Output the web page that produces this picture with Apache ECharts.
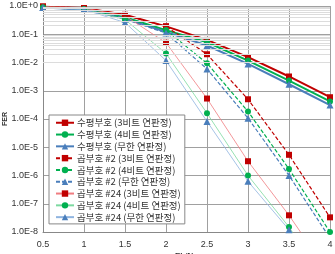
<!DOCTYPE html>
<html>
<head>
<meta charset="utf-8">
<script src="https://cdn.jsdelivr.net/npm/echarts@6/dist/echarts.min.js"></script>
<style>
  html, body { margin: 0; padding: 0; background: #fff; }
  #chart { width: 335px; height: 254px; }
</style>
</head>
<body>
<div id="chart"></div>
<script>
// Eb/No values (x axis)
const ebno = [0.5, 1, 1.5, 2, 2.5, 3, 3.5, 4];

// FER, horizontal code
const horiz3 = [0.95, 0.85, 0.49, 0.19, 0.063, 0.0154, 0.0032, 5.9e-4];
const horiz4 = [0.9, 0.78, 0.40, 0.14, 0.052, 0.0117, 0.0023, 4.2e-4];
const horizInf = [0.88, 0.75, 0.37, 0.12, 0.040, 0.0089, 0.0017, 3.1e-4];

// FER, product code #2
const prod2_3 = [0.95, 0.85, 0.47, 0.19, 0.0196, 5e-4, 5.4e-6, 3.3e-8];
const prod2_4 = [0.9, 0.78, 0.38, 0.14, 0.0094, 1.85e-4, 1.7e-6, 1e-8];
const prod2_inf = [0.88, 0.75, 0.34, 0.11, 0.0059, 1.07e-4, 1e-6, 6e-9];

// FER, product code #24
const prod24_3 = [0.95, 0.85, 0.45, 0.05, 5.3e-4, 3.2e-6, 3.9e-8, 3e-10];
const prod24_4 = [0.9, 0.78, 0.33, 0.021, 1.6e-4, 1e-6, 1.5e-8, 1e-10];
const prod24_inf = [0.88, 0.75, 0.26, 0.0117, 8.2e-5, 6.2e-7, 1.2e-8, 8e-11];

const names = [
  '수평부호 (3비트 연판정)', '수평부호 (4비트 연판정)', '수평부호 (무한 연판정)',
  '곱부호 #2 (3비트 연판정)', '곱부호 #2 (4비트 연판정)', '곱부호 #2 (무한 연판정)',
  '곱부호 #24 (3비트 연판정)', '곱부호 #24 (4비트 연판정)', '곱부호 #24 (무한 연판정)'
];

// minor gridlines at 2..9 x 10^e (Excel style)
const decades = [-8, -7, -6, -5, -4, -3, -2, -1];
const minorVals = [];
decades.forEach((e) => {
  for (let k = 2; k <= 9; k++) minorVals.push(k * Math.pow(10, e));
});

const RED = '#C00000', GREEN = '#00B050', BLUE = '#4A7EBB';

const pair = (ys) => ebno.map((x, i) => [x, ys[i]]);

const mk = (name, ys, color, symbol, lineColor, width, type) => ({
  name,
  type: 'line',
  data: pair(ys),
  symbol,
  symbolSize: symbol === 'triangle' ? 7 : 6,
  itemStyle: { color },
  lineStyle: { color: lineColor, width, type },
  z: 3
});

const chart = echarts.init(document.getElementById('chart'));

chart.setOption({
  animation: false,
  textStyle: { fontFamily: '"Noto Sans CJK KR", "Noto Sans", sans-serif' },
  grid: { left: 43, right: 5, top: 6, bottom: 22, outerBoundsMode: 'none' },
  xAxis: {
    type: 'value',
    min: 0.5,
    max: 4,
    interval: 0.5,
    name: 'Eb/No',
    nameLocation: 'middle',
    nameGap: 20,
    nameMoveOverlap: false,
    nameTextStyle: { fontSize: 8, fontWeight: 'bold', color: '#333', fontFamily: 'Liberation Sans' },
    axisLine: { lineStyle: { color: '#888' } },
    axisTick: { show: false },
    axisLabel: { fontSize: 9, color: '#333', margin: 8, fontFamily: 'Liberation Sans' },
    splitLine: { show: true, lineStyle: { color: '#a0a0a0', width: 1 } }
  },
  yAxis: {
    type: 'log',
    logBase: 10,
    min: 1e-8,
    max: 1,
    name: 'FER',
    nameLocation: 'middle',
    nameGap: 34,
    nameMoveOverlap: false,
    nameTextStyle: { fontSize: 7, fontWeight: 'bold', color: '#333', fontFamily: 'Liberation Sans' },
    axisLine: { show: true, lineStyle: { color: '#888' } },
    axisTick: { show: false },
    axisLabel: {
      fontSize: 9,
      color: '#333',
      margin: 5,
      fontFamily: 'Liberation Sans',
      formatter: (v) => {
        const e = Math.round(Math.log10(v));
        return '1.0E' + (e >= 0 ? '+' + e : e);
      }
    },
    splitLine: { show: true, lineStyle: { color: '#a0a0a0', width: 1 } }
  },
  legend: {
    data: names,
    orient: 'vertical',
    left: 49,
    top: 115,
    width: 133,
    padding: [3, 4, 2, 6],
    itemGap: 2.3,
    itemWidth: 18,
    itemHeight: 8,
    backgroundColor: '#fff',
    borderColor: '#888',
    borderWidth: 1,
    borderRadius: 0,
    textStyle: { fontSize: 9.5, color: '#333', padding: [0, 0, 0, -2] }
  },
  series: [
    {
      name: 'minor',
      type: 'line',
      data: [],
      silent: true,
      z: 1,
      markLine: {
        silent: true,
        symbol: 'none',
        label: { show: false },
        lineStyle: { color: '#dcdcdc', width: 1, type: 'solid' },
        data: minorVals.map((v) => ({ yAxis: v }))
      }
    },
    mk(names[0], horiz3, RED, 'rect', RED, 2, 'solid'),
    mk(names[1], horiz4, GREEN, 'circle', GREEN, 2, 'solid'),
    mk(names[2], horizInf, BLUE, 'triangle', BLUE, 2, 'solid'),
    mk(names[3], prod2_3, RED, 'rect', RED, 1.2, [4, 2]),
    mk(names[4], prod2_4, GREEN, 'circle', GREEN, 1.2, [4, 2]),
    mk(names[5], prod2_inf, BLUE, 'triangle', BLUE, 1.2, [4, 2]),
    mk(names[6], prod24_3, RED, 'rect', '#F07C80', 0.8, 'solid'),
    mk(names[7], prod24_4, GREEN, 'circle', '#7CD9A0', 0.8, 'solid'),
    mk(names[8], prod24_inf, BLUE, 'triangle', '#8FB4E0', 0.8, 'solid')
  ]
});
</script>
</body>
</html>
